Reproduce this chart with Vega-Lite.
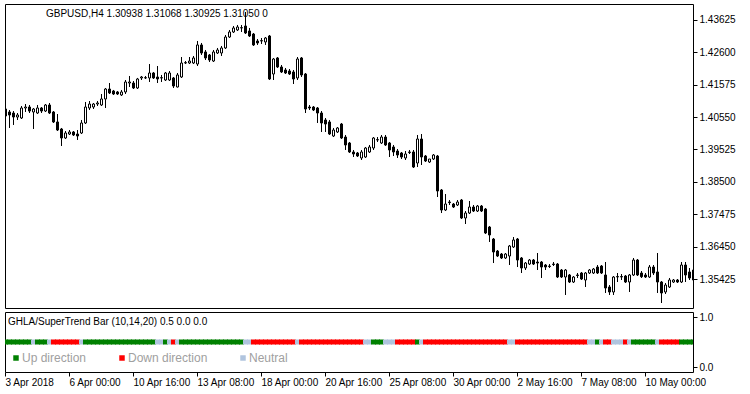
{
  "$schema": "https://vega.github.io/schema/vega-lite/v6.json",
  "background": "white",
  "padding": {"left": 4, "top": 3, "right": 0, "bottom": 0},
  "spacing": 2,
  "config": {
    "view": {"stroke": "#000000", "strokeWidth": 1},
    "font": "Liberation Sans",
    "axis": {"labelFont": "Liberation Sans", "labelColor": "#000000", "tickColor": "#000000", "labelFontSize": 10, "domain": false, "grid": false, "labelOverlap": false}
  },
  "resolve": {"scale": {"y": "independent", "color": "independent"}, "legend": {"color": "independent"}},
  "datasets": {
    "candles": [
      {"t":"2018-04-03T08:00","open":1.40807,"high":1.40870,"low":1.40237,"close":1.40585,"state":"Up direction"},
      {"t":"2018-04-03T12:00","open":1.40712,"high":1.40775,"low":1.40206,"close":1.40617,"state":"Up direction"},
      {"t":"2018-04-03T16:00","open":1.40680,"high":1.40743,"low":1.40301,"close":1.40553,"state":"Up direction"},
      {"t":"2018-04-03T20:00","open":1.40553,"high":1.40680,"low":1.40459,"close":1.40617,"state":"Up direction"},
      {"t":"2018-04-04T00:00","open":1.40522,"high":1.40902,"low":1.40490,"close":1.40839,"state":"Up direction"},
      {"t":"2018-04-04T04:00","open":1.40839,"high":1.40965,"low":1.40712,"close":1.40870,"state":"Up direction"},
      {"t":"2018-04-04T08:00","open":1.40870,"high":1.40934,"low":1.40680,"close":1.40743,"state":"Up direction"},
      {"t":"2018-04-04T12:00","open":1.40712,"high":1.40839,"low":1.40174,"close":1.40807,"state":"Neutral"},
      {"t":"2018-04-04T16:00","open":1.40680,"high":1.40934,"low":1.40648,"close":1.40839,"state":"Up direction"},
      {"t":"2018-04-04T20:00","open":1.40839,"high":1.40870,"low":1.40680,"close":1.40743,"state":"Up direction"},
      {"t":"2018-04-05T00:00","open":1.40743,"high":1.40965,"low":1.40712,"close":1.40934,"state":"Up direction"},
      {"t":"2018-04-05T04:00","open":1.40934,"high":1.40997,"low":1.40648,"close":1.40680,"state":"Neutral"},
      {"t":"2018-04-05T08:00","open":1.40712,"high":1.40743,"low":1.40364,"close":1.40396,"state":"Down direction"},
      {"t":"2018-04-05T12:00","open":1.40396,"high":1.40648,"low":1.40110,"close":1.40142,"state":"Down direction"},
      {"t":"2018-04-05T16:00","open":1.40174,"high":1.40206,"low":1.39636,"close":1.39889,"state":"Down direction"},
      {"t":"2018-04-05T20:00","open":1.39889,"high":1.40110,"low":1.39857,"close":1.40047,"state":"Down direction"},
      {"t":"2018-04-06T00:00","open":1.40015,"high":1.40142,"low":1.39984,"close":1.40079,"state":"Down direction"},
      {"t":"2018-04-06T04:00","open":1.40079,"high":1.40110,"low":1.39952,"close":1.39984,"state":"Down direction"},
      {"t":"2018-04-06T08:00","open":1.40015,"high":1.40142,"low":1.39826,"close":1.39952,"state":"Down direction"},
      {"t":"2018-04-06T12:00","open":1.40047,"high":1.40459,"low":1.40015,"close":1.40364,"state":"Neutral"},
      {"t":"2018-04-06T16:00","open":1.40364,"high":1.41029,"low":1.40332,"close":1.40870,"state":"Up direction"},
      {"t":"2018-04-06T20:00","open":1.40839,"high":1.41060,"low":1.40775,"close":1.40965,"state":"Up direction"},
      {"t":"2018-04-09T00:00","open":1.40870,"high":1.40997,"low":1.40807,"close":1.40965,"state":"Up direction"},
      {"t":"2018-04-09T04:00","open":1.40965,"high":1.41060,"low":1.40902,"close":1.40997,"state":"Up direction"},
      {"t":"2018-04-09T08:00","open":1.40934,"high":1.41282,"low":1.40902,"close":1.41124,"state":"Up direction"},
      {"t":"2018-04-09T12:00","open":1.41124,"high":1.41472,"low":1.40839,"close":1.41440,"state":"Up direction"},
      {"t":"2018-04-09T16:00","open":1.41440,"high":1.41630,"low":1.41282,"close":1.41314,"state":"Up direction"},
      {"t":"2018-04-09T20:00","open":1.41377,"high":1.41409,"low":1.41251,"close":1.41282,"state":"Up direction"},
      {"t":"2018-04-10T00:00","open":1.41346,"high":1.41377,"low":1.41251,"close":1.41282,"state":"Up direction"},
      {"t":"2018-04-10T04:00","open":1.41251,"high":1.41409,"low":1.41219,"close":1.41346,"state":"Up direction"},
      {"t":"2018-04-10T08:00","open":1.41346,"high":1.41725,"low":1.41282,"close":1.41662,"state":"Up direction"},
      {"t":"2018-04-10T12:00","open":1.41630,"high":1.41852,"low":1.41503,"close":1.41662,"state":"Up direction"},
      {"t":"2018-04-10T16:00","open":1.41630,"high":1.41693,"low":1.41440,"close":1.41472,"state":"Up direction"},
      {"t":"2018-04-10T20:00","open":1.41472,"high":1.41790,"low":1.41440,"close":1.41757,"state":"Up direction"},
      {"t":"2018-04-11T00:00","open":1.41789,"high":1.41852,"low":1.41725,"close":1.41820,"state":"Up direction"},
      {"t":"2018-04-11T04:00","open":1.41789,"high":1.41852,"low":1.41757,"close":1.41800,"state":"Up direction"},
      {"t":"2018-04-11T08:00","open":1.41789,"high":1.42231,"low":1.41662,"close":1.41947,"state":"Up direction"},
      {"t":"2018-04-11T12:00","open":1.41947,"high":1.41979,"low":1.41757,"close":1.41789,"state":"Up direction"},
      {"t":"2018-04-11T16:00","open":1.41820,"high":1.42168,"low":1.41630,"close":1.41757,"state":"Neutral"},
      {"t":"2018-04-11T20:00","open":1.41789,"high":1.41884,"low":1.41662,"close":1.41800,"state":"Neutral"},
      {"t":"2018-04-12T00:00","open":1.41725,"high":1.41979,"low":1.41693,"close":1.41947,"state":"Up direction"},
      {"t":"2018-04-12T04:00","open":1.41725,"high":1.42010,"low":1.41693,"close":1.41947,"state":"Neutral"},
      {"t":"2018-04-12T08:00","open":1.41789,"high":1.41820,"low":1.41472,"close":1.41535,"state":"Down direction"},
      {"t":"2018-04-12T12:00","open":1.41503,"high":1.41947,"low":1.41490,"close":1.41884,"state":"Neutral"},
      {"t":"2018-04-12T16:00","open":1.41820,"high":1.42453,"low":1.41789,"close":1.42263,"state":"Up direction"},
      {"t":"2018-04-12T20:00","open":1.42263,"high":1.42326,"low":1.42231,"close":1.42276,"state":"Up direction"},
      {"t":"2018-04-13T00:00","open":1.42263,"high":1.42453,"low":1.42231,"close":1.42326,"state":"Up direction"},
      {"t":"2018-04-13T04:00","open":1.42263,"high":1.42485,"low":1.42231,"close":1.42422,"state":"Up direction"},
      {"t":"2018-04-13T08:00","open":1.42231,"high":1.42960,"low":1.42168,"close":1.42834,"state":"Up direction"},
      {"t":"2018-04-13T12:00","open":1.42834,"high":1.42897,"low":1.42517,"close":1.42580,"state":"Up direction"},
      {"t":"2018-04-13T16:00","open":1.42612,"high":1.42675,"low":1.42358,"close":1.42422,"state":"Up direction"},
      {"t":"2018-04-13T20:00","open":1.42517,"high":1.42548,"low":1.42295,"close":1.42358,"state":"Up direction"},
      {"t":"2018-04-16T00:00","open":1.42326,"high":1.42675,"low":1.42295,"close":1.42612,"state":"Up direction"},
      {"t":"2018-04-16T04:00","open":1.42580,"high":1.42739,"low":1.42548,"close":1.42675,"state":"Up direction"},
      {"t":"2018-04-16T08:00","open":1.42580,"high":1.42802,"low":1.42485,"close":1.42739,"state":"Up direction"},
      {"t":"2018-04-16T12:00","open":1.42739,"high":1.43150,"low":1.42707,"close":1.43086,"state":"Up direction"},
      {"t":"2018-04-16T16:00","open":1.43086,"high":1.43308,"low":1.43055,"close":1.43245,"state":"Up direction"},
      {"t":"2018-04-16T20:00","open":1.43245,"high":1.43435,"low":1.43213,"close":1.43372,"state":"Up direction"},
      {"t":"2018-04-17T00:00","open":1.43308,"high":1.43467,"low":1.43277,"close":1.43403,"state":"Up direction"},
      {"t":"2018-04-17T04:00","open":1.43372,"high":1.43467,"low":1.43245,"close":1.43384,"state":"Up direction"},
      {"t":"2018-04-17T08:00","open":1.43435,"high":1.43878,"low":1.43181,"close":1.43213,"state":"Neutral"},
      {"t":"2018-04-17T12:00","open":1.43277,"high":1.43372,"low":1.43086,"close":1.43118,"state":"Neutral"},
      {"t":"2018-04-17T16:00","open":1.43181,"high":1.43213,"low":1.42802,"close":1.42834,"state":"Down direction"},
      {"t":"2018-04-17T20:00","open":1.42960,"high":1.43023,"low":1.42834,"close":1.42897,"state":"Down direction"},
      {"t":"2018-04-18T00:00","open":1.42960,"high":1.43055,"low":1.42865,"close":1.42973,"state":"Down direction"},
      {"t":"2018-04-18T04:00","open":1.42929,"high":1.43086,"low":1.42834,"close":1.43055,"state":"Down direction"},
      {"t":"2018-04-18T08:00","open":1.43118,"high":1.43150,"low":1.41725,"close":1.41757,"state":"Down direction"},
      {"t":"2018-04-18T12:00","open":1.41915,"high":1.42422,"low":1.41725,"close":1.42390,"state":"Down direction"},
      {"t":"2018-04-18T16:00","open":1.42422,"high":1.42453,"low":1.42105,"close":1.42137,"state":"Down direction"},
      {"t":"2018-04-18T20:00","open":1.42137,"high":1.42200,"low":1.41947,"close":1.41979,"state":"Down direction"},
      {"t":"2018-04-19T00:00","open":1.42042,"high":1.42105,"low":1.41915,"close":1.41947,"state":"Down direction"},
      {"t":"2018-04-19T04:00","open":1.42010,"high":1.42073,"low":1.41884,"close":1.41915,"state":"Down direction"},
      {"t":"2018-04-19T08:00","open":1.41979,"high":1.42042,"low":1.41598,"close":1.41757,"state":"Down direction"},
      {"t":"2018-04-19T12:00","open":1.41789,"high":1.42453,"low":1.41725,"close":1.42390,"state":"Neutral"},
      {"t":"2018-04-19T16:00","open":1.42422,"high":1.42453,"low":1.41820,"close":1.41884,"state":"Down direction"},
      {"t":"2018-04-19T20:00","open":1.41915,"high":1.41947,"low":1.40680,"close":1.40807,"state":"Down direction"},
      {"t":"2018-04-20T00:00","open":1.40870,"high":1.40934,"low":1.40775,"close":1.40839,"state":"Down direction"},
      {"t":"2018-04-20T04:00","open":1.40870,"high":1.40902,"low":1.40743,"close":1.40775,"state":"Down direction"},
      {"t":"2018-04-20T08:00","open":1.40839,"high":1.40870,"low":1.40364,"close":1.40680,"state":"Down direction"},
      {"t":"2018-04-20T12:00","open":1.40680,"high":1.40743,"low":1.40079,"close":1.40364,"state":"Down direction"},
      {"t":"2018-04-20T16:00","open":1.40459,"high":1.40522,"low":1.40079,"close":1.40332,"state":"Down direction"},
      {"t":"2018-04-20T20:00","open":1.40396,"high":1.40459,"low":1.39984,"close":1.40015,"state":"Down direction"},
      {"t":"2018-04-23T00:00","open":1.39952,"high":1.40206,"low":1.39920,"close":1.40142,"state":"Down direction"},
      {"t":"2018-04-23T04:00","open":1.40079,"high":1.40237,"low":1.40047,"close":1.40206,"state":"Down direction"},
      {"t":"2018-04-23T08:00","open":1.40332,"high":1.40364,"low":1.39857,"close":1.39889,"state":"Down direction"},
      {"t":"2018-04-23T12:00","open":1.39920,"high":1.39984,"low":1.39509,"close":1.39668,"state":"Down direction"},
      {"t":"2018-04-23T16:00","open":1.39731,"high":1.39763,"low":1.39414,"close":1.39446,"state":"Down direction"},
      {"t":"2018-04-23T20:00","open":1.39446,"high":1.39509,"low":1.39287,"close":1.39382,"state":"Down direction"},
      {"t":"2018-04-24T00:00","open":1.39414,"high":1.39446,"low":1.39287,"close":1.39319,"state":"Down direction"},
      {"t":"2018-04-24T04:00","open":1.39256,"high":1.39509,"low":1.39192,"close":1.39446,"state":"Down direction"},
      {"t":"2018-04-24T08:00","open":1.39287,"high":1.39604,"low":1.39256,"close":1.39572,"state":"Neutral"},
      {"t":"2018-04-24T12:00","open":1.39446,"high":1.39668,"low":1.39414,"close":1.39604,"state":"Neutral"},
      {"t":"2018-04-24T16:00","open":1.39572,"high":1.39920,"low":1.39509,"close":1.39889,"state":"Up direction"},
      {"t":"2018-04-24T20:00","open":1.39826,"high":1.39920,"low":1.39763,"close":1.39839,"state":"Up direction"},
      {"t":"2018-04-25T00:00","open":1.39731,"high":1.39984,"low":1.39699,"close":1.39920,"state":"Up direction"},
      {"t":"2018-04-25T04:00","open":1.39920,"high":1.39984,"low":1.39636,"close":1.39668,"state":"Neutral"},
      {"t":"2018-04-25T08:00","open":1.39731,"high":1.39763,"low":1.39287,"close":1.39509,"state":"Neutral"},
      {"t":"2018-04-25T12:00","open":1.39604,"high":1.39668,"low":1.39319,"close":1.39446,"state":"Neutral"},
      {"t":"2018-04-25T16:00","open":1.39477,"high":1.39541,"low":1.39256,"close":1.39351,"state":"Down direction"},
      {"t":"2018-04-25T20:00","open":1.39414,"high":1.39446,"low":1.39224,"close":1.39287,"state":"Down direction"},
      {"t":"2018-04-26T00:00","open":1.39256,"high":1.39477,"low":1.39192,"close":1.39382,"state":"Down direction"},
      {"t":"2018-04-26T04:00","open":1.39427,"high":1.39509,"low":1.39382,"close":1.39446,"state":"Down direction"},
      {"t":"2018-04-26T08:00","open":1.39446,"high":1.39509,"low":1.38939,"close":1.38970,"state":"Down direction"},
      {"t":"2018-04-26T12:00","open":1.39097,"high":1.39984,"low":1.38970,"close":1.39857,"state":"Up direction"},
      {"t":"2018-04-26T16:00","open":1.39857,"high":1.40015,"low":1.39034,"close":1.39287,"state":"Neutral"},
      {"t":"2018-04-26T20:00","open":1.39319,"high":1.39351,"low":1.39129,"close":1.39161,"state":"Down direction"},
      {"t":"2018-04-27T00:00","open":1.39129,"high":1.39224,"low":1.39097,"close":1.39224,"state":"Down direction"},
      {"t":"2018-04-27T04:00","open":1.39224,"high":1.39382,"low":1.39192,"close":1.39351,"state":"Down direction"},
      {"t":"2018-04-27T08:00","open":1.39319,"high":1.39351,"low":1.38021,"close":1.38211,"state":"Down direction"},
      {"t":"2018-04-27T12:00","open":1.38243,"high":1.38274,"low":1.37514,"close":1.37609,"state":"Down direction"},
      {"t":"2018-04-27T16:00","open":1.37609,"high":1.38116,"low":1.37577,"close":1.37799,"state":"Down direction"},
      {"t":"2018-04-27T20:00","open":1.37863,"high":1.37926,"low":1.37768,"close":1.37844,"state":"Down direction"},
      {"t":"2018-04-30T00:00","open":1.37799,"high":1.37831,"low":1.37673,"close":1.37704,"state":"Down direction"},
      {"t":"2018-04-30T04:00","open":1.37768,"high":1.37926,"low":1.37736,"close":1.37863,"state":"Down direction"},
      {"t":"2018-04-30T08:00","open":1.37926,"high":1.37958,"low":1.37324,"close":1.37356,"state":"Down direction"},
      {"t":"2018-04-30T12:00","open":1.37356,"high":1.37577,"low":1.37166,"close":1.37514,"state":"Down direction"},
      {"t":"2018-04-30T16:00","open":1.37514,"high":1.37894,"low":1.37482,"close":1.37704,"state":"Down direction"},
      {"t":"2018-04-30T20:00","open":1.37704,"high":1.37768,"low":1.37546,"close":1.37577,"state":"Down direction"},
      {"t":"2018-05-01T00:00","open":1.37577,"high":1.37768,"low":1.37546,"close":1.37736,"state":"Down direction"},
      {"t":"2018-05-01T04:00","open":1.37736,"high":1.37768,"low":1.37546,"close":1.37577,"state":"Down direction"},
      {"t":"2018-05-01T08:00","open":1.37641,"high":1.37673,"low":1.36849,"close":1.36881,"state":"Down direction"},
      {"t":"2018-05-01T12:00","open":1.37071,"high":1.37103,"low":1.36597,"close":1.36818,"state":"Down direction"},
      {"t":"2018-05-01T16:00","open":1.36691,"high":1.36723,"low":1.35931,"close":1.36280,"state":"Down direction"},
      {"t":"2018-05-01T20:00","open":1.36311,"high":1.36343,"low":1.36121,"close":1.36153,"state":"Down direction"},
      {"t":"2018-05-02T00:00","open":1.36216,"high":1.36248,"low":1.36058,"close":1.36090,"state":"Down direction"},
      {"t":"2018-05-02T04:00","open":1.36090,"high":1.36248,"low":1.36058,"close":1.36216,"state":"Down direction"},
      {"t":"2018-05-02T08:00","open":1.36153,"high":1.36502,"low":1.35868,"close":1.36470,"state":"Neutral"},
      {"t":"2018-05-02T12:00","open":1.36438,"high":1.36754,"low":1.36407,"close":1.36660,"state":"Neutral"},
      {"t":"2018-05-02T16:00","open":1.36691,"high":1.36723,"low":1.35804,"close":1.36026,"state":"Down direction"},
      {"t":"2018-05-02T20:00","open":1.36090,"high":1.36121,"low":1.35615,"close":1.35773,"state":"Down direction"},
      {"t":"2018-05-03T00:00","open":1.35773,"high":1.35963,"low":1.35710,"close":1.35931,"state":"Down direction"},
      {"t":"2018-05-03T04:00","open":1.35899,"high":1.36058,"low":1.35868,"close":1.36026,"state":"Down direction"},
      {"t":"2018-05-03T08:00","open":1.36026,"high":1.36058,"low":1.35868,"close":1.35899,"state":"Down direction"},
      {"t":"2018-05-03T12:00","open":1.35963,"high":1.36248,"low":1.35710,"close":1.35931,"state":"Down direction"},
      {"t":"2018-05-03T16:00","open":1.35963,"high":1.35994,"low":1.35457,"close":1.35804,"state":"Down direction"},
      {"t":"2018-05-03T20:00","open":1.35868,"high":1.35899,"low":1.35710,"close":1.35804,"state":"Down direction"},
      {"t":"2018-05-04T00:00","open":1.35836,"high":1.35899,"low":1.35773,"close":1.35820,"state":"Down direction"},
      {"t":"2018-05-04T04:00","open":1.35899,"high":1.35963,"low":1.35836,"close":1.35883,"state":"Down direction"},
      {"t":"2018-05-04T08:00","open":1.35899,"high":1.35931,"low":1.35457,"close":1.35488,"state":"Down direction"},
      {"t":"2018-05-04T12:00","open":1.35710,"high":1.35741,"low":1.35457,"close":1.35488,"state":"Down direction"},
      {"t":"2018-05-04T16:00","open":1.35488,"high":1.35741,"low":1.34919,"close":1.35710,"state":"Down direction"},
      {"t":"2018-05-04T20:00","open":1.35552,"high":1.35583,"low":1.35298,"close":1.35330,"state":"Down direction"},
      {"t":"2018-05-07T00:00","open":1.35330,"high":1.35520,"low":1.35298,"close":1.35488,"state":"Down direction"},
      {"t":"2018-05-07T04:00","open":1.35552,"high":1.35615,"low":1.35457,"close":1.35536,"state":"Down direction"},
      {"t":"2018-05-07T08:00","open":1.35615,"high":1.35647,"low":1.35393,"close":1.35425,"state":"Down direction"},
      {"t":"2018-05-07T12:00","open":1.35393,"high":1.35647,"low":1.35172,"close":1.35615,"state":"Down direction"},
      {"t":"2018-05-07T16:00","open":1.35615,"high":1.35741,"low":1.35583,"close":1.35710,"state":"Neutral"},
      {"t":"2018-05-07T20:00","open":1.35615,"high":1.35773,"low":1.35583,"close":1.35741,"state":"Neutral"},
      {"t":"2018-05-08T00:00","open":1.35804,"high":1.35868,"low":1.35583,"close":1.35615,"state":"Up direction"},
      {"t":"2018-05-08T04:00","open":1.35836,"high":1.35868,"low":1.35583,"close":1.35615,"state":"Neutral"},
      {"t":"2018-05-08T08:00","open":1.35552,"high":1.35963,"low":1.34982,"close":1.35140,"state":"Down direction"},
      {"t":"2018-05-08T12:00","open":1.35172,"high":1.35235,"low":1.34919,"close":1.35014,"state":"Down direction"},
      {"t":"2018-05-08T16:00","open":1.35014,"high":1.35520,"low":1.34919,"close":1.35488,"state":"Neutral"},
      {"t":"2018-05-08T20:00","open":1.35488,"high":1.35615,"low":1.35330,"close":1.35504,"state":"Neutral"},
      {"t":"2018-05-09T00:00","open":1.35488,"high":1.35583,"low":1.35393,"close":1.35504,"state":"Neutral"},
      {"t":"2018-05-09T04:00","open":1.35520,"high":1.35552,"low":1.35298,"close":1.35330,"state":"Down direction"},
      {"t":"2018-05-09T08:00","open":1.35330,"high":1.35583,"low":1.35014,"close":1.35552,"state":"Neutral"},
      {"t":"2018-05-09T12:00","open":1.35552,"high":1.36090,"low":1.35520,"close":1.36026,"state":"Up direction"},
      {"t":"2018-05-09T16:00","open":1.36026,"high":1.36058,"low":1.35520,"close":1.35552,"state":"Up direction"},
      {"t":"2018-05-09T20:00","open":1.35615,"high":1.35678,"low":1.35457,"close":1.35498,"state":"Up direction"},
      {"t":"2018-05-10T00:00","open":1.35552,"high":1.35615,"low":1.35457,"close":1.35488,"state":"Up direction"},
      {"t":"2018-05-10T04:00","open":1.35488,"high":1.35868,"low":1.35457,"close":1.35804,"state":"Up direction"},
      {"t":"2018-05-10T08:00","open":1.35804,"high":1.35868,"low":1.35552,"close":1.35615,"state":"Up direction"},
      {"t":"2018-05-10T12:00","open":1.35647,"high":1.36248,"low":1.34982,"close":1.35330,"state":"Neutral"},
      {"t":"2018-05-10T16:00","open":1.35330,"high":1.35362,"low":1.34665,"close":1.34982,"state":"Down direction"},
      {"t":"2018-05-10T20:00","open":1.35014,"high":1.35298,"low":1.34950,"close":1.35235,"state":"Down direction"},
      {"t":"2018-05-11T00:00","open":1.35172,"high":1.35457,"low":1.35140,"close":1.35393,"state":"Down direction"},
      {"t":"2018-05-11T04:00","open":1.35330,"high":1.35425,"low":1.35298,"close":1.35393,"state":"Down direction"},
      {"t":"2018-05-11T08:00","open":1.35393,"high":1.35425,"low":1.35298,"close":1.35330,"state":"Down direction"},
      {"t":"2018-05-11T12:00","open":1.35330,"high":1.35963,"low":1.35298,"close":1.35868,"state":"Up direction"},
      {"t":"2018-05-11T16:00","open":1.35868,"high":1.35963,"low":1.35330,"close":1.35552,"state":"Up direction"},
      {"t":"2018-05-11T20:00","open":1.35647,"high":1.35773,"low":1.35393,"close":1.35457,"state":"Up direction"},
      {"t":"2018-05-14T00:00","open":1.35393,"high":1.35773,"low":1.35330,"close":1.35710,"state":"Up direction"}
    ]
  },
  "vconcat": [
    {
      "width": 688,
      "height": 304,
      "data": {"name": "candles"},
      "title": {"text": "GBPUSD,H4  1.30938 1.31068 1.30925 1.31050  0", "anchor": "start", "frame": "group", "baseline": "top", "offset": -15, "dx": 41, "fontSize": 10, "fontWeight": "normal", "font": "Liberation Sans", "color": "#000000"},
      "encoding": {
        "x": {"field": "t", "type": "ordinal", "sort": null, "scale": {"range": [-1.5, 690.5], "paddingInner": 0, "paddingOuter": 0}, "axis": null}
      },
      "layer": [
        {
          "mark": {"type": "rule", "color": "#000000", "strokeWidth": 1, "clip": true},
          "encoding": {
            "y": {"field": "low", "type": "quantitative", "title": null, "scale": {"domain": [1.34507, 1.44131], "nice": false, "zero": false},
                  "axis": {"orient": "right", "values": [1.35425, 1.3645, 1.37475, 1.385, 1.39525, 1.4055, 1.41575, 1.426, 1.43625], "format": ".5f", "tickSize": 4, "labelPadding": 2, "labelOverlap": false, "labelBound": false, "labelFlush": false, "title": null}},
            "y2": {"field": "high"}
          }
        },
        {
          "mark": {"type": "bar", "width": 2, "stroke": "#000000", "strokeWidth": 1, "clip": true},
          "encoding": {
            "y": {"field": "open", "type": "quantitative", "title": null,
                  "axis": {"orient": "right", "values": [1.35425, 1.3645, 1.37475, 1.385, 1.39525, 1.4055, 1.41575, 1.426, 1.43625], "format": ".5f", "tickSize": 4, "labelPadding": 2, "labelOverlap": false, "labelBound": false, "labelFlush": false, "title": null}},
            "y2": {"field": "close"},
            "fill": {"condition": {"test": "datum.close >= datum.open", "value": "#ffffff"}, "value": "#000000"}
          }
        }
      ]
    },
    {
      "width": 688,
      "height": 60,
      "data": {"name": "candles"},
      "title": {"text": "GHLA/SuperTrend Bar (10,14,20) 0.5 0.0 0.0", "anchor": "start", "frame": "group", "baseline": "top", "offset": -15, "dx": 3, "fontSize": 10, "fontWeight": "normal", "font": "Liberation Sans", "color": "#000000"},
      "mark": {"type": "bar", "width": {"band": 1.25}, "clip": true},
      "encoding": {
        "x": {"field": "t", "type": "ordinal", "sort": null, "scale": {"range": [-1.5, 690.5], "paddingInner": 0, "paddingOuter": 0},
              "axis": {"title": null, "values": ["2018-04-03T08:00","2018-04-06T00:00","2018-04-10T16:00","2018-04-13T08:00","2018-04-18T00:00","2018-04-20T16:00","2018-04-25T08:00","2018-04-30T00:00","2018-05-02T16:00","2018-05-07T08:00","2018-05-10T00:00"],
                       "labelExpr": "datum.index == 0 ? timeFormat(toDate(datum.value), '%-d %b %Y') : timeFormat(toDate(datum.value), '%-d %b %H:%M')",
                       "labelAngle": 0, "labelAlign": "left", "labelBaseline": "top", "tickSize": 4, "labelPadding": 1, "labelOverlap": false, "labelFlush": false, "labelBound": false}},
        "y": {"datum": 0.55, "type": "quantitative", "scale": {"domain": [-0.1, 1.1], "nice": false, "zero": false},
              "axis": {"orient": "right", "values": [0, 1], "format": ".1f", "tickSize": 4, "labelPadding": 2, "title": null}},
        "y2": {"datum": 0.45},
        "color": {"field": "state", "type": "nominal",
                  "scale": {"domain": ["Up direction", "Down direction", "Neutral"], "range": ["#008000", "#ff0000", "#b0c4de"]},
                  "legend": {"title": null, "orient": "none", "legendX": 5, "legendY": 40, "direction": "horizontal", "padding": 0, "symbolType": "square", "symbolSize": 30, "symbolStrokeWidth": 0, "labelColor": "#a0a0a0", "labelFontSize": 12, "labelFont": "Liberation Sans", "labelOffset": 0, "columnPadding": 29}}
      }
    }
  ]
}
